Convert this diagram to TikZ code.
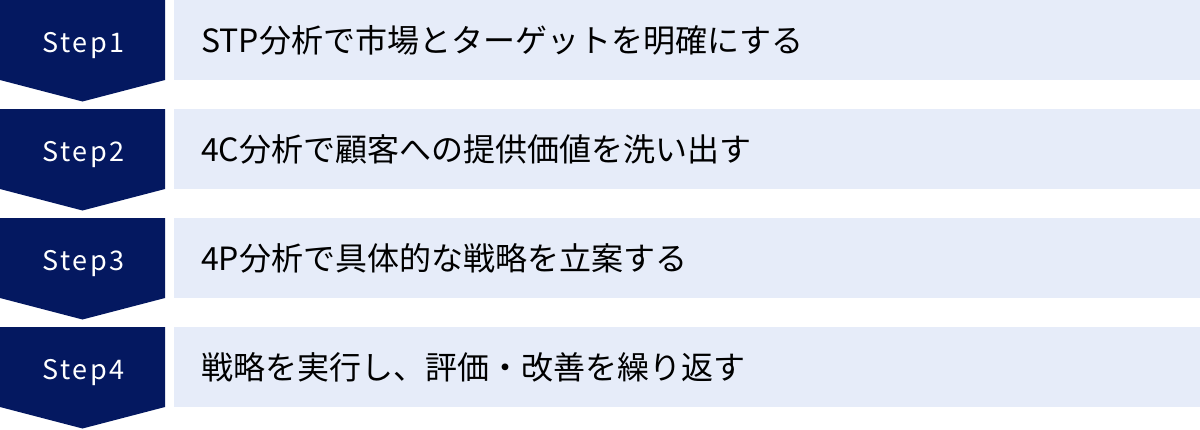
\documentclass[tikz,border=0pt]{standalone}
\usepackage{fontspec}
\setmainfont{Noto Sans CJK JP}
\newfontfamily\stepfont[LetterSpace=9]{Noto Sans CJK JP}
\definecolor{navy}{RGB}{4,24,96}
\definecolor{paleblue}{RGB}{230,236,249}
\begin{document}
\begin{tikzpicture}[x=1pt,y=-1pt,
  stepshape/.style={fill=navy,draw=none},
  stepbox/.style={fill=paleblue,draw=none,minimum width=1026pt,minimum height=80pt,inner sep=0pt,outer sep=0pt,anchor=north west},
  steplabel/.style={text=white,font=\stepfont\fontsize{27}{32}\selectfont,inner sep=0pt,anchor=base},
  steptext/.style={text=black,font=\fontsize{32}{38}\selectfont,inner sep=0pt,anchor=west}]
\useasboundingbox (0,0) rectangle (1200,429);
\foreach \i/\lab/\txt in {0/Step1/STP分析で市場とターゲットを明確にする,
                          1/Step2/4C分析で顧客への提供価値を洗い出す,
                          2/Step3/4P分析で具体的な戦略を立案する,
                          3/Step4/戦略を実行し、評価・改善を繰り返す}{
  \pgfmathsetmacro{\t}{109*\i}
  \fill[stepshape] (0,\t) -- (165,\t) -- (165,\t+80) -- (82.5,\t+101.5) -- (0,\t+80) -- cycle;
  \node[stepbox] (box\i) at (174,\t) {};
  \node[steplabel] (lab\i) at (83.5,\t+52.3) {\lab};
  \node[steptext] (txt\i) at (201,\t+40) {\txt};
}
\end{tikzpicture}
\end{document}
